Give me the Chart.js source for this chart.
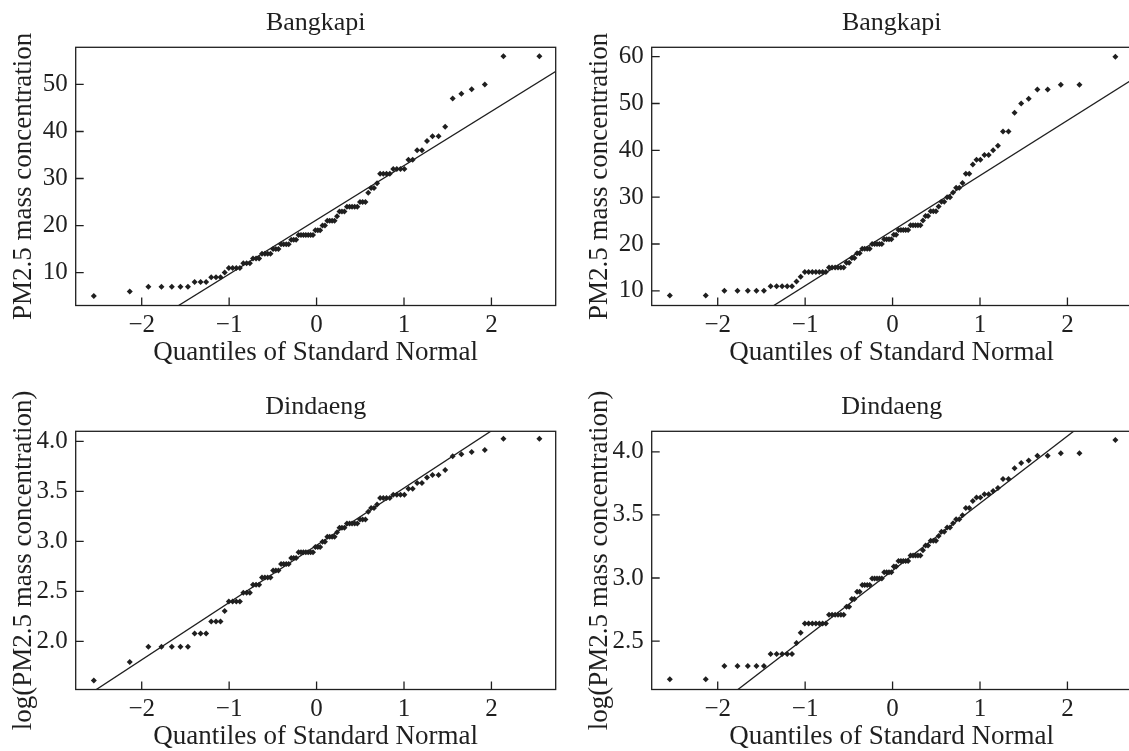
<!DOCTYPE html>
<html lang="en">
<head>
<meta charset="utf-8">
<title>PM2.5 normal Q-Q plots</title>
<script src="https://cdn.jsdelivr.net/npm/chart.js@4.4.1/dist/chart.umd.min.js"></script>
<style>
    html, body { margin: 0; padding: 0; background: #ffffff; }
    body { width: 1129px; height: 751px; position: relative; overflow: hidden; }
    canvas.panel { position: absolute; }
</style>
</head>
<body>
<canvas id="qq-raw-left" class="panel" width="575" height="385" style="left:0px;top:0px"></canvas>
<canvas id="qq-raw-right" class="panel" width="575" height="385" style="left:576px;top:0px"></canvas>
<canvas id="qq-log-left" class="panel" width="575" height="385" style="left:0px;top:384px"></canvas>
<canvas id="qq-log-right" class="panel" width="575" height="385" style="left:576px;top:384px"></canvas>
<script>
// quantiles of standard normal (92 obs.)
const quantiles = [
    -2.548, -2.137, -1.924, -1.774, -1.656, -1.557, -1.471, -1.395, -1.326, -1.263,
    -1.205, -1.150, -1.099, -1.051, -1.004, -0.960, -0.918, -0.877, -0.838, -0.800,
    -0.763, -0.727, -0.692, -0.657, -0.624, -0.591, -0.559, -0.527, -0.497, -0.466,
    -0.436, -0.406, -0.377, -0.347, -0.319, -0.290, -0.262, -0.234, -0.206, -0.178,
    -0.150, -0.123, -0.096, -0.068, -0.041, -0.014,
    0.014, 0.041, 0.068, 0.096, 0.123, 0.150, 0.178, 0.206, 0.234, 0.262,
    0.290, 0.319, 0.347, 0.377, 0.406, 0.436, 0.466, 0.497, 0.527, 0.559,
    0.591, 0.624, 0.657, 0.692, 0.727, 0.763, 0.800, 0.838, 0.877, 0.918,
    0.960, 1.004, 1.051, 1.099, 1.150, 1.205, 1.263, 1.326, 1.395, 1.471,
    1.557, 1.656, 1.774, 1.924, 2.137, 2.548
];

// top left: Bangkapi
const rawLeftValues = [
    5, 6, 7, 7, 7, 7, 7, 8, 8, 8,
    9, 9, 9, 10, 11, 11, 11, 11, 12, 12,
    12, 13, 13, 13, 14, 14, 14, 14, 15, 15,
    15, 16, 16, 16, 16, 17, 17, 17, 18, 18,
    18, 18, 18, 18, 18, 19, 19, 19, 20, 20,
    21, 21, 21, 21, 22, 23, 23, 23, 24, 24,
    24, 24, 24, 25, 25, 25, 27, 28, 28, 29,
    31, 31, 31, 31, 32, 32, 32, 32, 34, 34,
    36, 36, 38, 39, 39, 41, 47, 48, 49, 50,
    56, 56
];

// top right: Bangkapi
const rawRightValues = [
    9, 9, 10, 10, 10, 10, 10, 11, 11, 11,
    11, 11, 12, 13, 14, 14, 14, 14, 14, 14,
    14, 15, 15, 15, 15, 15, 15, 16, 16, 17,
    17, 18, 18, 19, 19, 19, 19, 20, 20, 20,
    20, 20, 21, 21, 21, 21, 22, 22, 23, 23,
    23, 23, 23, 24, 24, 24, 24, 24, 25, 26,
    26, 27, 27, 27, 28, 29, 29, 30, 30, 31,
    32, 32, 33, 35, 35, 37, 38, 38, 39, 39,
    40, 41, 44, 44, 48, 50, 51, 53, 53, 54,
    54, 60
];

// bottom left: Dindaeng (log scale)
const logLeftValues = [
    1.609, 1.792, 1.946, 1.946, 1.946, 1.946, 1.946, 2.079, 2.079, 2.079,
    2.197, 2.197, 2.197, 2.303, 2.398, 2.398, 2.398, 2.398, 2.485, 2.485,
    2.485, 2.565, 2.565, 2.565, 2.639, 2.639, 2.639, 2.639, 2.708, 2.708,
    2.708, 2.773, 2.773, 2.773, 2.773, 2.833, 2.833, 2.833, 2.890, 2.890,
    2.890, 2.890, 2.890, 2.890, 2.890, 2.944, 2.944, 2.944, 2.996, 2.996,
    3.045, 3.045, 3.045, 3.045, 3.091, 3.135, 3.135, 3.135, 3.178, 3.178,
    3.178, 3.178, 3.178, 3.219, 3.219, 3.219, 3.296, 3.332, 3.332, 3.367,
    3.434, 3.434, 3.434, 3.434, 3.466, 3.466, 3.466, 3.466, 3.526, 3.526,
    3.584, 3.584, 3.638, 3.664, 3.664, 3.714, 3.850, 3.871, 3.892, 3.912,
    4.025, 4.025
];

// bottom right: Dindaeng (log scale)
const logRightValues = [
    2.197, 2.197, 2.303, 2.303, 2.303, 2.303, 2.303, 2.398, 2.398, 2.398,
    2.398, 2.398, 2.485, 2.565, 2.639, 2.639, 2.639, 2.639, 2.639, 2.639,
    2.639, 2.708, 2.708, 2.708, 2.708, 2.708, 2.708, 2.773, 2.773, 2.833,
    2.833, 2.890, 2.890, 2.944, 2.944, 2.944, 2.944, 2.996, 2.996, 2.996,
    2.996, 2.996, 3.045, 3.045, 3.045, 3.045, 3.091, 3.091, 3.135, 3.135,
    3.135, 3.135, 3.135, 3.178, 3.178, 3.178, 3.178, 3.178, 3.219, 3.258,
    3.258, 3.296, 3.296, 3.296, 3.332, 3.367, 3.367, 3.401, 3.401, 3.434,
    3.466, 3.466, 3.497, 3.555, 3.555, 3.611, 3.638, 3.638, 3.664, 3.664,
    3.689, 3.714, 3.784, 3.784, 3.871, 3.912, 3.932, 3.970, 3.970, 3.989,
    3.989, 4.094
];

// reference line end points (qqline)
const refLineX = [-2.8, 2.8];
const rawLeftLine = [-11.1, 53.5];
const rawRightLine = [-10.1, 55.8];
const logLeftLine = [1.357, 4.563];
const logRightLine = [1.566, 4.552];

// axis ranges and ticks
const xRange = [-2.755, 2.735];
const xTicks = [-2, -1, 0, 1, 2];
const rawLeftRange = [3.0, 57.9];
const rawLeftTicks = [10, 20, 30, 40, 50];
const rawRightRange = [6.87, 62.0];
const rawRightTicks = [10, 20, 30, 40, 50, 60];
const logLeftRange = [1.518, 4.10];
const logLeftTicks = [2.0, 2.5, 3.0, 3.5, 4.0];
const logRightRange = [2.116, 4.163];
const logRightTicks = [2.5, 3.0, 3.5, 4.0];

const INK = '#1f1f1f';
const BOX = { width: 575, height: 385, left: 75.7, right: 555.7, bottom: 305.5 };

Chart.defaults.font.family = '"Liberation Serif", "Times New Roman", serif';
Chart.defaults.color = INK;

// minus sign like the print version
function formatTick(value, decimals) {
    const s = decimals ? value.toFixed(decimals) : String(value);
    return s.replace('-', '\u2212');
}

// frame + inward tick marks (S-PLUS look)
const frameTicksPlugin = {
    id: 'frameTicks',
    afterDatasetsDraw(chart) {
        const { ctx, chartArea: a, scales: { x, y } } = chart;
        ctx.save();
        ctx.strokeStyle = INK;
        ctx.lineWidth = 1.3;
        ctx.strokeRect(a.left, a.top, a.right - a.left, a.bottom - a.top);
        ctx.beginPath();
        x.ticks.forEach(t => {
            const px = x.getPixelForValue(t.value);
            ctx.moveTo(px, a.bottom);
            ctx.lineTo(px, a.bottom - 8);
        });
        y.ticks.forEach(t => {
            const py = y.getPixelForValue(t.value);
            ctx.moveTo(a.left, py);
            ctx.lineTo(a.left + 8, py);
        });
        ctx.stroke();
        ctx.restore();
    }
};

function createQQChart(canvasId, cfg) {
    const canvas = document.getElementById(canvasId);
    if (!canvas) return null;

    const points = quantiles.map((q, i) => ({ x: q, y: cfg.values[i] }));
    const line = refLineX.map((x, i) => ({ x: x, y: cfg.line[i] }));

    return new Chart(canvas.getContext('2d'), {
        type: 'scatter',
        data: {
            datasets: [{
                data: points,
                pointStyle: 'rectRot',
                pointRadius: 3,
                backgroundColor: INK,
                borderWidth: 0
            }, {
                data: line,
                showLine: true,
                pointRadius: 0,
                borderColor: INK,
                borderWidth: 1.3,
                fill: false
            }]
        },
        options: {
            responsive: false,
            animation: false,
            layout: { padding: { left: 0, right: BOX.width - BOX.right, top: 0, bottom: 0 } },
            plugins: {
                legend: { display: false },
                tooltip: { enabled: false },
                title: {
                    display: true,
                    fullSize: false,
                    text: cfg.title,
                    color: INK,
                    font: { size: 26, weight: 'normal' },
                    padding: { top: 8, bottom: 8.1 }
                }
            },
            scales: {
                x: {
                    type: 'linear',
                    min: xRange[0],
                    max: xRange[1],
                    afterBuildTicks: s => { s.ticks = xTicks.map(v => ({ value: v })); },
                    afterFit: s => { s.height = BOX.height - BOX.bottom; },
                    grid: { display: false, drawTicks: false },
                    border: { display: false },
                    ticks: {
                        padding: 5,
                        maxRotation: 0,
                        autoSkip: false,
                        color: INK,
                        font: { size: 25 },
                        callback: v => formatTick(v, 0)
                    },
                    title: {
                        display: true,
                        text: 'Quantiles of Standard Normal',
                        color: INK,
                        font: { size: 27 },
                        padding: { top: 0, bottom: 16 }
                    }
                },
                y: {
                    type: 'linear',
                    min: cfg.range[0],
                    max: cfg.range[1],
                    afterBuildTicks: s => { s.ticks = cfg.ticks.map(v => ({ value: v })); },
                    afterFit: s => { s.width = BOX.left; },
                    grid: { display: false, drawTicks: false },
                    border: { display: false },
                    ticks: {
                        padding: 8,
                        autoSkip: false,
                        color: INK,
                        font: { size: 25 },
                        callback: v => formatTick(v, cfg.decimals)
                    },
                    title: {
                        display: true,
                        text: cfg.yTitle,
                        color: INK,
                        font: { size: 27 },
                        padding: { top: 8, bottom: 0 }
                    }
                }
            }
        },
        plugins: [frameTicksPlugin]
    });
}

const rawTitle = 'PM2.5 mass concentration';
const logTitle = 'log(PM2.5 mass concentration)';

createQQChart('qq-raw-left', {
    title: 'Bangkapi', yTitle: rawTitle, values: rawLeftValues, line: rawLeftLine,
    range: rawLeftRange, ticks: rawLeftTicks, decimals: 0
});
createQQChart('qq-raw-right', {
    title: 'Bangkapi', yTitle: rawTitle, values: rawRightValues, line: rawRightLine,
    range: rawRightRange, ticks: rawRightTicks, decimals: 0
});
createQQChart('qq-log-left', {
    title: 'Dindaeng', yTitle: logTitle, values: logLeftValues, line: logLeftLine,
    range: logLeftRange, ticks: logLeftTicks, decimals: 1
});
createQQChart('qq-log-right', {
    title: 'Dindaeng', yTitle: logTitle, values: logRightValues, line: logRightLine,
    range: logRightRange, ticks: logRightTicks, decimals: 1
});
</script>
</body>
</html>
